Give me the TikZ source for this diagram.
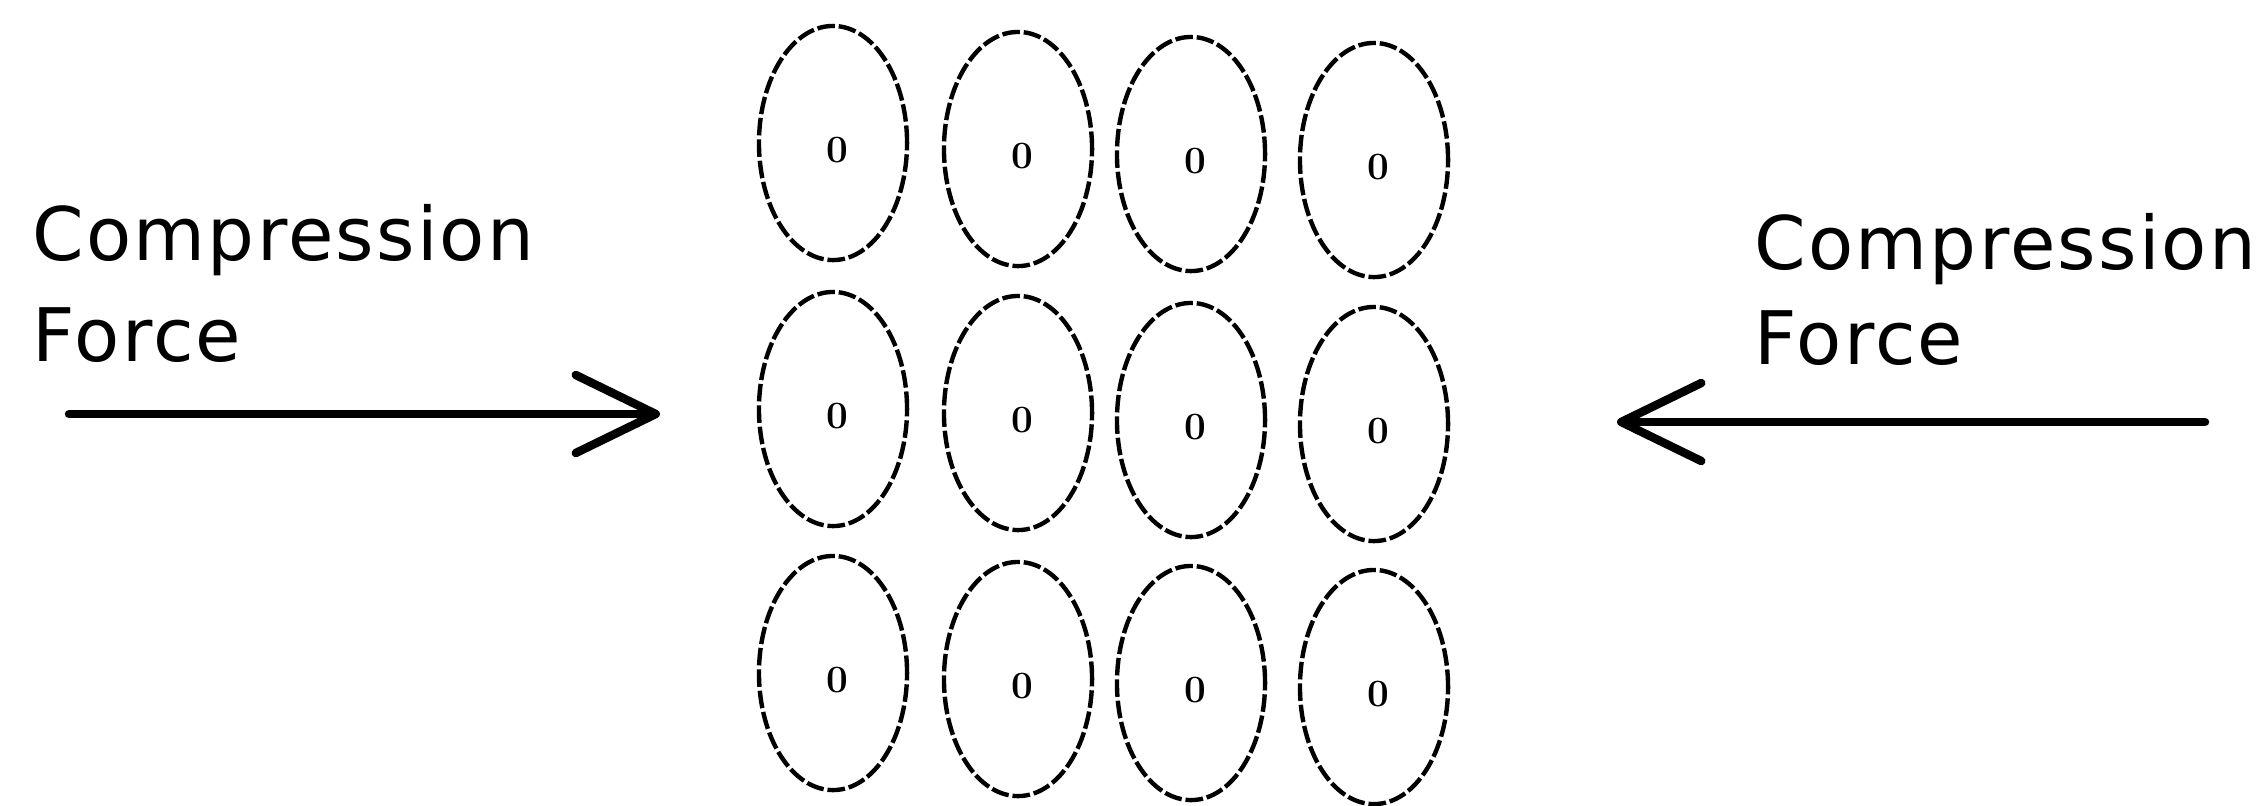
\documentclass[tikz,border=0pt]{standalone}
\usepackage{fontspec}
\newfontfamily\sidefont[LetterSpace=3]{DejaVu Sans}
\usetikzlibrary{shapes.geometric,arrows.meta}
\begin{document}
\begin{tikzpicture}[x=0.01cm,y=-0.01cm,
  cell/.style={ellipse, draw, line width=1.25pt, dash pattern=on 5pt off 1.1pt,
    minimum width=1.48cm, minimum height=2.34cm, inner sep=0pt},
  zero/.style={inner sep=0pt, font=\fontsize{11}{13}\selectfont\bfseries},
  sidetext/.style={anchor=base west, inner sep=0pt, font=\sidefont\fontsize{21}{25}\selectfont},
  force/.style={line width=2.4pt, line cap=round,
    -{Straight Barb[length=0.8cm, width=0.78cm, round]}}
]
\useasboundingbox (0,0) rectangle (2264,805);
\foreach \n/\x/\y in {11/833/143, 12/1018/149, 13/1191/154, 14/1374/160,
                      21/833/409, 22/1018/413, 23/1191/420, 24/1374/424,
                      31/833/673, 32/1018/679, 33/1191/683, 34/1374/687}{
  \node[cell] (e\n) at (\x,\y) {};
  \node[zero] (z\n) at ([xshift=0.04cm,yshift=-0.07cm]e\n.center) {0};
}
\node[sidetext] (lc) at (32,260) {Compression};
\node[sidetext] (lf) at (32,361) {Force};
\node[sidetext] (rc) at (1754,269) {Compression};
\node[sidetext] (rf) at (1754,364) {Force};
\coordinate (la0) at (69,414);
\coordinate (la1) at (660,414);
\draw[force] (la0) -- (la1);
\coordinate (ra0) at (2205,422);
\coordinate (ra1) at (1617,422);
\draw[force] (ra0) -- (ra1);
\end{tikzpicture}
\end{document}
